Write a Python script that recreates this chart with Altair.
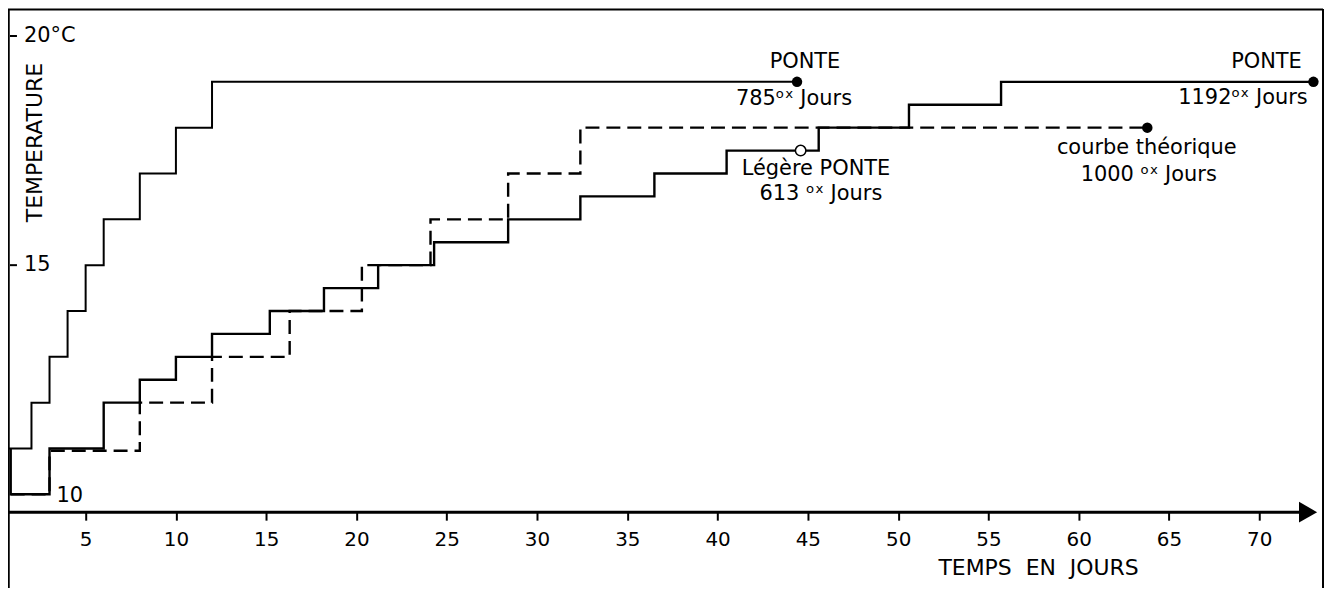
import altair as alt
import pandas as pd

FONT = "DejaVu Sans"

# ---- data ----
# curve reaching PONTE at 785 degree-days (solid, left)
up_days = [0.7, 2, 3, 4, 5, 6, 8, 10, 12, 44.4]
up_temp = [11, 12, 13, 14, 15, 16, 17, 18, 19, 19]

# curve reaching PONTE at 1192 degree-days (solid, lower)
low_days = [0.85, 0.85, 3, 6, 8, 10, 12, 15.2, 18.2, 21.2, 24.3, 28.4, 32.4,
            36.5, 40.5, 45.6, 50.6, 55.7, 73.0]
low_temp = [11, 10, 11, 12, 12.5, 13, 13.5, 14, 14.5, 15, 15.5, 16, 16.5,
            17, 17.5, 18, 18.5, 19, 19]

# courbe théorique, 1000 degree-days (dashed)
th_days = [0.85, 3, 8, 12, 16.3, 20.3, 24.1, 28.4, 32.4, 63.8]
th_temp = [10, 10.95, 12, 13, 14, 15, 16, 17, 18, 18]

# end points
dot_days = [44.4, 73.0, 63.8]
dot_temp = [19, 19, 18]
open_days = [44.6]
open_temp = [17.5]

# annotations
ann_text = ["PONTE", "785ᵒˣ Jours", "Légère PONTE", "613 ᵒˣ Jours",
            "courbe théorique", "1000 ᵒˣ Jours", "PONTE", "1192ᵒˣ Jours", "10"]
ann_day = [44.84, 44.23, 45.45, 45.72, 63.77, 63.88, 70.40, 69.10, 4.12]
ann_temp = [19.435, 18.63, 17.108, 16.543, 17.565, 16.956, 19.435, 18.652, 9.954]

# axes
x_ticks = [5, 10, 15, 20, 25, 30, 35, 40, 45, 50, 55, 60, 65, 70]
y_tick_vals = [15, 20]
y_tick_labels = ["15", "20°C"]

# ---- tables ----
def curve(days, temps):
    return pd.DataFrame({"day": days, "temp": temps, "i": list(range(len(days)))})

up_df = curve(up_days, up_temp)
low_df = curve(low_days, low_temp)
th_df = curve(th_days, th_temp)
dot_df = pd.DataFrame({"day": dot_days, "temp": dot_temp})
open_df = pd.DataFrame({"day": open_days, "temp": open_temp})
ann_df = pd.DataFrame({"txt": ann_text, "day": ann_day, "temp": ann_temp})
yt_df = pd.DataFrame({"temp": y_tick_vals, "lab": y_tick_labels})
one = pd.DataFrame({"a": [0]})

xs = alt.Scale(domain=[0.7, 73.2], nice=False, zero=False)
ys = alt.Scale(domain=[9.61, 20.587], nice=False, zero=False)

xaxis = alt.Axis(values=x_ticks, domain=False, grid=False, tickSize=8, tickWidth=2,
                 tickColor="black", labelFont=FONT, labelFontSize=20, labelColor="black",
                 labelPadding=9, title="TEMPS\u00a0\u00a0EN\u00a0\u00a0JOURS",
                 titleFont=FONT, titleFontSize=22, titleFontWeight="normal",
                 titleColor="black", titleX=1034, titleY=56, titleBaseline="middle",
                 titleAlign="center")

X = alt.X("day:Q", scale=xs, axis=xaxis)
Y = alt.Y("temp:Q", scale=ys, axis=None)

up_line = alt.Chart(up_df).mark_line(interpolate="step-after", color="black",
                                     strokeWidth=2).encode(x=X, y=Y, order="i:Q")
low_line = alt.Chart(low_df).mark_line(interpolate="step-after", color="black",
                                       strokeWidth=2.4).encode(x=X, y=Y, order="i:Q")
th_line = alt.Chart(th_df).mark_line(interpolate="step-after", color="black",
                                     strokeWidth=2.4, strokeDash=[14, 7]).encode(
    x=X, y=Y, order="i:Q")

dots = alt.Chart(dot_df).mark_point(filled=True, shape="circle", size=110,
                                    color="black", opacity=1).encode(x=X, y=Y)
opens = alt.Chart(open_df).mark_point(filled=True, shape="circle", size=110,
                                      fill="white", stroke="black", strokeWidth=1.5,
                                      opacity=1).encode(x=X, y=Y)

ann = alt.Chart(ann_df).mark_text(font=FONT, fontSize=21, color="black",
                                  align="center", baseline="middle").encode(
    x=X, y=Y, text="txt:N")

# y ticks and labels drawn inside the axis
yticks = alt.Chart(yt_df).mark_rule(color="black", strokeWidth=2).encode(
    x=alt.value(2), x2=alt.value(9), y=Y)
ylabs = alt.Chart(yt_df).mark_text(font=FONT, fontSize=21, color="black",
                                   align="left", baseline="middle").encode(
    x=alt.value(16), y=Y, text="lab:N")

ytitle = alt.Chart(one).mark_text(font=FONT, fontSize=22, color="black", angle=270,
                                  align="center", baseline="middle",
                                  text="TEMPERATURE").encode(
    x=alt.value(27), y=alt.value(134))

# frame, axis line and arrow
frame_top = alt.Chart(one).mark_rule(color="black", strokeWidth=2).encode(
    x=alt.value(0), x2=alt.value(1320), y=alt.value(0.5))
frame_left = alt.Chart(one).mark_rule(color="black", strokeWidth=2.5).encode(
    x=alt.value(0.5), y=alt.value(0), y2=alt.value(581))
frame_right = alt.Chart(one).mark_rule(color="black", strokeWidth=2).encode(
    x=alt.value(1320), y=alt.value(0), y2=alt.value(581))
xline = alt.Chart(one).mark_rule(color="black", strokeWidth=3).encode(
    x=alt.value(0), x2=alt.value(1300), y=alt.value(505))
arrow = alt.Chart(one).mark_point(shape="M-1,-1.15L1,0L-1,1.15Z", size=330,
                                  filled=True, color="black", opacity=1).encode(
    x=alt.value(1305), y=alt.value(505))

chart = alt.layer(
    th_line, low_line, up_line, dots, opens, ann, yticks, ylabs, ytitle,
    frame_top, frame_left, frame_right, xline, arrow
).properties(
    width=1314, height=505,
    autosize=alt.AutoSizeParams(type="none"),
    padding={"left": 0, "top": 0, "right": 8, "bottom": 76},
    background="white",
).configure_view(stroke=None)

chart.save("out.html", embed_options={"renderer": "svg", "actions": False})
